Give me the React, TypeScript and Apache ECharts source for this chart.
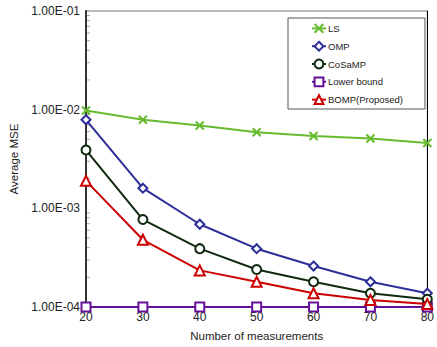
import React, { useEffect, useRef } from "react";
import * as echarts from "echarts";

const measurements = [20, 30, 40, 50, 60, 70, 80];
const lsValues = [9.8e-3, 7.9e-3, 6.9e-3, 5.9e-3, 5.4e-3, 5.1e-3, 4.6e-3];
const ompValues = [7.9e-3, 1.6e-3, 6.9e-4, 3.9e-4, 2.6e-4, 1.8e-4, 1.38e-4];
const cosampValues = [3.9e-3, 7.7e-4, 3.9e-4, 2.4e-4, 1.8e-4, 1.38e-4, 1.2e-4];
const lowerBoundValues = [1e-4, 1e-4, 1e-4, 1e-4, 1e-4, 1e-4, 1e-4];
const bompValues = [1.9e-3, 4.8e-4, 2.35e-4, 1.8e-4, 1.38e-4, 1.18e-4, 1.07e-4];
const minorTickMultipliers = [2, 3, 4, 5, 6, 7, 8, 9];
const decades = [1e-4, 1e-3, 1e-2];

const FONT = "Liberation Sans, Arial, sans-serif";

function fmtExp(v: number): string {
  const exp = Math.round(Math.log10(v));
  const sign = exp < 0 ? "-" : "+";
  const a = Math.abs(exp);
  return "1.00E" + sign + (a < 10 ? "0" + a : String(a));
}

export default function App() {
  const ref = useRef<HTMLDivElement>(null);
  useEffect(() => {
    if (!ref.current) return;
    const chart = echarts.init(ref.current, undefined, { renderer: "svg" });
    const mk = (v: number[]) => v.map((y, i) => [measurements[i], y]);
    const minorData: number[][] = [];
    decades.forEach((d) => minorTickMultipliers.forEach((m) => minorData.push([20, d * m])));

    const lineSeries = (
      name: string,
      data: number[],
      color: string,
      symbol: string,
      size: number,
      z: number
    ) => ({
      name,
      type: "line",
      data: mk(data),
      symbol,
      symbolSize: size,
      showAllSymbol: true,
      z,
      lineStyle: { color, width: 2 },
      itemStyle: { color: symbol.startsWith("path") ? color : "#fff", borderColor: color, borderWidth: 2 },
    });

    chart.setOption({
      animation: false,
      grid: { left: 86, right: 9, top: 11, bottom: 39, show: true, borderColor: "#777", borderWidth: 1 },
      legend: {
        orient: "vertical",
        left: 288,
        top: 18,
        width: 134,
        padding: [5, 22, 4, 23],
        itemGap: 7,
        itemWidth: 14,
        itemHeight: 11,
        borderColor: "#555",
        borderWidth: 1,
        backgroundColor: "#fff",
        textStyle: { fontFamily: FONT, fontSize: 9.5, color: "#222", padding: [0, 0, 0, -3] },
        data: ["LS", "OMP", "CoSaMP", "Lower bound", "BOMP(Proposed)"],
      },
      xAxis: [
        {
          type: "value",
          min: 20,
          max: 80,
          interval: 10,
          name: "Number of measurements",
          nameLocation: "middle",
          nameGap: 23,
          nameTextStyle: { fontFamily: FONT, fontSize: 11.5, color: "#222" },
          axisLine: { lineStyle: { color: "#000", width: 1 } },
          axisTick: { show: false },
          splitLine: { show: false },
          axisLabel: { fontFamily: FONT, fontSize: 12, color: "#222", margin: 4 },
        },
      ],
      yAxis: [
        {
          type: "log",
          logBase: 10,
          min: 1e-4,
          max: 1e-1,
          name: "Average MSE",
          nameLocation: "middle",
          nameGap: 63,
          nameTextStyle: { fontFamily: FONT, fontSize: 11.5, color: "#222" },
          axisLine: { show: true, lineStyle: { color: "#333", width: 2 } },
          axisTick: { show: false },
          splitLine: { show: false },
          axisLabel: { fontFamily: FONT, fontSize: 12, color: "#222", margin: 6, formatter: (v: number) => fmtExp(v) },
        },
        {
          type: "log",
          logBase: 10,
          min: 1e-4,
          max: 1e-1,
          position: "right",
          axisLine: { show: true, lineStyle: { color: "#000", width: 1 } },
          axisTick: { show: false },
          axisLabel: { show: false },
          splitLine: { show: false },
        },
      ],
      series: [
        {
          type: "custom",
          silent: true,
          z: 1,
          data: minorData,
          renderItem: (_p: any, api: any) => {
            const pt = api.coord([api.value(0), api.value(1)]);
            return {
              type: "line",
              shape: { x1: pt[0] + 1, y1: pt[1], x2: pt[0] + 4, y2: pt[1] },
              style: { stroke: "#aaa", lineWidth: 1 },
            };
          },
        },
        lineSeries("LS", lsValues, "#66bb2e", "path://M0,0L10,10M10,0L0,10", 8, 5),
        lineSeries("OMP", ompValues, "#2e2e99", "diamond", 9, 6),
        lineSeries("CoSaMP", cosampValues, "#102a10", "circle", 9, 7),
        lineSeries("Lower bound", lowerBoundValues, "#66109a", "rect", 9, 4),
        lineSeries("BOMP(Proposed)", bompValues, "#cc0000", "triangle", 10, 8),
      ],
    });
    return () => chart.dispose();
  }, []);
  return (
    <div
      ref={ref}
      style={{ position: "absolute", left: 0, top: 0, width: 437, height: 347, background: "#fff" }}
    />
  );
}
